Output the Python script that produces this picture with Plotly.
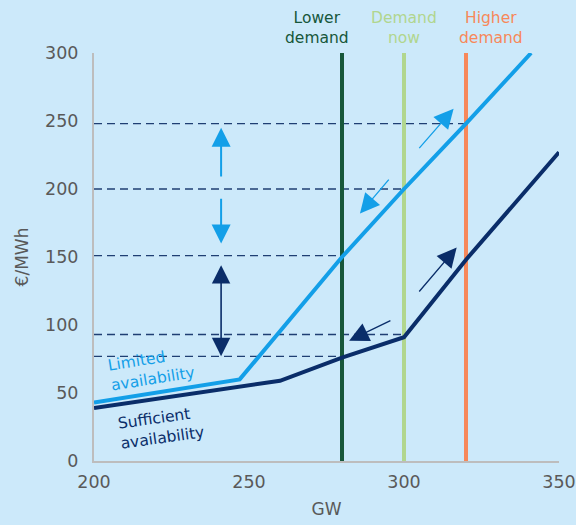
import plotly.graph_objects as go

# Supply curves (GW, €/MWh)
limited_x = [200, 247, 280, 300, 320, 341]
limited_y = [43, 60, 150, 200, 248, 300]
sufficient_x = [200, 260, 280, 300, 320, 350]
sufficient_y = [39, 59, 76, 91, 148, 227]

# Demand levels (GW)
demand_x = [280, 300, 320]
demand_labels = ["Lower<br>demand", "Demand<br>now", "Higher<br>demand"]
demand_colors = ["#17573a", "#b1d68e", "#f7885a"]
demand_label_x = [272, 300, 328]

# Price reference levels (dashed)
price_levels = [248, 200, 151, 93, 77]
price_end_x = [320, 300, 280, 300, 280]

x_ticks = [200, 250, 300, 350]
y_ticks = [0, 50, 100, 150, 200, 250, 300]

LIGHT = "#139fe8"
DARK = "#0a2d69"
BG = "#cce9fa"
FONT = "DejaVu Sans"

fig = go.Figure()

# dashed reference lines
for lvl, xe in zip(price_levels, price_end_x):
    fig.add_trace(go.Scatter(x=[200, xe], y=[lvl, lvl], mode="lines",
                             line=dict(color="#1f3f73", width=1.3, dash="8px,5px"),
                             hoverinfo="skip", showlegend=False))

# demand vertical lines
for dx, col in zip(demand_x, demand_colors):
    fig.add_trace(go.Scatter(x=[dx, dx], y=[0, 300], mode="lines",
                             line=dict(color=col, width=4),
                             hoverinfo="skip", showlegend=False))

# supply curves
fig.add_trace(go.Scatter(x=limited_x, y=limited_y, mode="lines",
                         line=dict(color=LIGHT, width=4), showlegend=False))
fig.add_trace(go.Scatter(x=sufficient_x, y=sufficient_y, mode="lines",
                         line=dict(color=DARK, width=4), showlegend=False))

annotations = []

# demand labels
for lx, txt, col in zip(demand_label_x, demand_labels, demand_colors):
    annotations.append(dict(x=lx, y=1, xref="x", yref="paper", yanchor="bottom",
                            yshift=4, text=txt, showarrow=False,
                            font=dict(family=FONT, size=15.5, color=col)))

# arrows: (tip_x, tip_y, tail_x, tail_y, color, width, side, size)
arrows = [
    (241, 245, 241, 208, LIGHT, 2, "end", 1.9),
    (241, 160, 241, 194, LIGHT, 2, "end", 1.9),
    (241, 144, 241, 76, DARK, 1.6, "end+start", 2.3),
    (316, 259, 304.5, 229, LIGHT, 1.3, "end", 3.0),
    (285.8, 182, 295.5, 208, LIGHT, 1.3, "end", 3.0),
    (317, 157, 304.5, 123.5, DARK, 1.3, "end", 3.0),
    (282.3, 88.5, 296.1, 103.7, DARK, 1.3, "end", 3.0),
]
for tx, ty, ax, ay, col, w, side, sz in arrows:
    annotations.append(dict(x=tx, y=ty, ax=ax, ay=ay, xref="x", yref="y",
                            axref="x", ayref="y", showarrow=True, text="",
                            arrowhead=2, arrowsize=sz,
                            arrowwidth=w, arrowcolor=col, arrowside=side,
                            standoff=0, startstandoff=0))

annotations.append(dict(x=218.5, y=68, xref="x", yref="y", text="Limited<br>availability",
                        showarrow=False, align="left", textangle=-9,
                        font=dict(family=FONT, size=15.5, color=LIGHT)))
annotations.append(dict(x=221.5, y=24, xref="x", yref="y", text="Sufficient<br>availability",
                        showarrow=False, align="left", textangle=-8,
                        font=dict(family=FONT, size=15.5, color=DARK)))

fig.update_layout(
    width=576, height=525,
    margin=dict(l=94, r=17, t=53, b=64),
    paper_bgcolor=BG, plot_bgcolor=BG,
    font=dict(family=FONT, size=17, color="#595959"),
    annotations=annotations,
    xaxis=dict(range=[200, 350], tickvals=x_ticks, showgrid=False, zeroline=False,
               automargin=False, ticks="", ticklabelstandoff=4,
               showline=True, linecolor="#bdbdbd", linewidth=2,
               title=dict(text="GW", font=dict(size=17, color="#595959"), standoff=12),
               tickfont=dict(size=17.5, color="#595959")),
    yaxis=dict(range=[0, 300], tickvals=y_ticks, showgrid=False, zeroline=False,
               automargin=False, ticks="", ticklabelstandoff=10,
               showline=True, linecolor="#bdbdbd", linewidth=2,
               title=dict(text="€/MWh", font=dict(size=17, color="#595959"), standoff=12),
               tickfont=dict(size=17.5, color="#595959")),
)

post = ("document.body.style.margin='0';document.body.style.padding='0';"
        "document.body.style.overflow='hidden';"
        "document.body.style.background='" + BG + "';")
fig.write_html("out.html", post_script=post, config={"displayModeBar": False})
